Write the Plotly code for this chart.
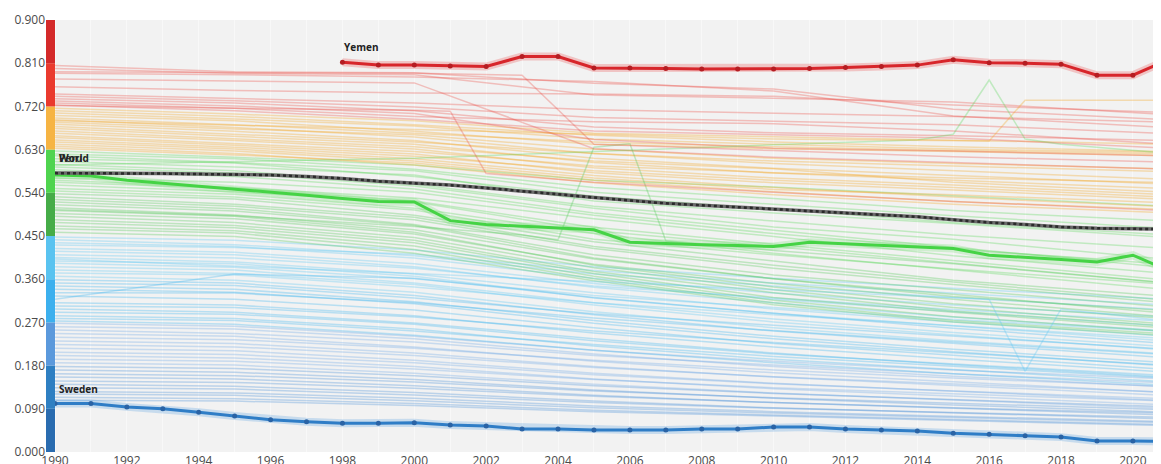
import plotly.graph_objects as go

# ---------------- data ----------------
BG_YEARS = [1990, 1995, 2000, 2005, 2010, 2015, 2021]

RED_LINES = [
    [0.805, 0.792, 0.790, 0.768, 0.756, 0.714, 0.692],
    [0.799, 0.789, 0.786, 0.744, 0.737, 0.729, 0.703],
    [0.789, 0.786, 0.781, 0.772, 0.752, 0.700, 0.676],
    [0.777, 0.773, 0.769, 0.632, 0.614, 0.603, 0.589],
    [0.761, 0.753, 0.748, 0.746, 0.741, 0.723, 0.707],
    [0.746, 0.737, 0.727, 0.713, 0.706, 0.699, 0.687],
    [0.741, 0.732, 0.719, 0.697, 0.689, 0.682, 0.663],
    [0.736, 0.727, 0.711, 0.677, 0.665, 0.659, 0.649],
    [0.731, 0.721, 0.705, 0.651, 0.633, 0.627, 0.617],
    [0.727, 0.716, 0.699, 0.688, 0.684, 0.669, 0.641],
    [0.723, 0.711, 0.693, 0.669, 0.661, 0.654, 0.633],
]

ORANGE_LINES = [
    [0.716, 0.704, 0.690, 0.664, 0.657, 0.650, 0.641],
    [0.711, 0.699, 0.682, 0.660, 0.646, 0.636, 0.626],
    [0.706, 0.694, 0.679, 0.652, 0.641, 0.631, 0.624],
    [0.701, 0.690, 0.668, 0.641, 0.632, 0.626, 0.617],
    [0.696, 0.682, 0.664, 0.646, 0.636, 0.628, 0.621],
    [0.692, 0.676, 0.656, 0.622, 0.601, 0.586, 0.568],
    [0.687, 0.673, 0.661, 0.631, 0.612, 0.601, 0.590],
    [0.683, 0.668, 0.649, 0.612, 0.591, 0.576, 0.558],
    [0.678, 0.662, 0.646, 0.622, 0.606, 0.596, 0.584],
    [0.674, 0.657, 0.641, 0.603, 0.581, 0.566, 0.549],
    [0.669, 0.653, 0.636, 0.606, 0.590, 0.562, 0.541],
    [0.664, 0.649, 0.631, 0.592, 0.571, 0.556, 0.536],
    [0.659, 0.643, 0.626, 0.596, 0.582, 0.571, 0.561],
    [0.655, 0.639, 0.621, 0.582, 0.561, 0.546, 0.526],
    [0.650, 0.635, 0.616, 0.586, 0.566, 0.551, 0.531],
    [0.646, 0.631, 0.611, 0.576, 0.551, 0.531, 0.511],
    [0.641, 0.627, 0.606, 0.571, 0.547, 0.536, 0.519],
    [0.637, 0.622, 0.598, 0.561, 0.536, 0.516, 0.498],
    [0.633, 0.619, 0.602, 0.566, 0.542, 0.522, 0.505],
]

GREEN_LINES = [
    [0.627, 0.614, 0.598, 0.566, 0.552, 0.534, 0.512],
    [0.621, 0.611, 0.589, 0.551, 0.528, 0.503, 0.481],
    [0.617, 0.603, 0.586, 0.541, 0.516, 0.492, 0.466],
    [0.611, 0.602, 0.574, 0.533, 0.506, 0.478, 0.452],
    [0.605, 0.594, 0.577, 0.523, 0.498, 0.476, 0.447],
    [0.599, 0.586, 0.558, 0.512, 0.481, 0.452, 0.424],
    [0.594, 0.581, 0.554, 0.508, 0.469, 0.443, 0.401],
    [0.588, 0.574, 0.548, 0.498, 0.462, 0.426, 0.384],
    [0.571, 0.562, 0.541, 0.493, 0.455, 0.423, 0.391],
    [0.566, 0.551, 0.529, 0.486, 0.449, 0.409, 0.372],
    [0.562, 0.549, 0.523, 0.468, 0.433, 0.399, 0.358],
    [0.556, 0.542, 0.521, 0.461, 0.428, 0.393, 0.352],
    [0.549, 0.537, 0.508, 0.455, 0.414, 0.379, 0.338],
    [0.544, 0.531, 0.504, 0.443, 0.411, 0.381, 0.349],
    [0.538, 0.527, 0.493, 0.438, 0.398, 0.358, 0.324],
    [0.532, 0.516, 0.489, 0.428, 0.389, 0.354, 0.316],
    [0.526, 0.512, 0.484, 0.424, 0.383, 0.349, 0.311],
    [0.521, 0.507, 0.474, 0.411, 0.369, 0.338, 0.302],
    [0.515, 0.502, 0.472, 0.404, 0.361, 0.324, 0.294],
    [0.509, 0.494, 0.463, 0.402, 0.361, 0.328, 0.289],
    [0.503, 0.491, 0.458, 0.389, 0.344, 0.309, 0.278],
    [0.497, 0.486, 0.454, 0.391, 0.351, 0.318, 0.281],
    [0.491, 0.478, 0.447, 0.384, 0.338, 0.301, 0.266],
    [0.484, 0.472, 0.441, 0.376, 0.332, 0.294, 0.262],
    [0.478, 0.467, 0.436, 0.372, 0.322, 0.291, 0.258],
    [0.471, 0.461, 0.429, 0.366, 0.316, 0.282, 0.251],
    [0.465, 0.456, 0.422, 0.361, 0.311, 0.274, 0.246],
    [0.458, 0.449, 0.414, 0.357, 0.307, 0.271, 0.242],
]

CYAN_LINES = [
    [0.448, 0.441, 0.421, 0.386, 0.362, 0.341, 0.318],
    [0.442, 0.432, 0.409, 0.371, 0.346, 0.322, 0.296],
    [0.436, 0.428, 0.404, 0.362, 0.331, 0.306, 0.281],
    [0.431, 0.426, 0.412, 0.378, 0.352, 0.331, 0.306],
    [0.424, 0.416, 0.392, 0.351, 0.318, 0.292, 0.262],
    [0.418, 0.411, 0.386, 0.343, 0.311, 0.281, 0.252],
    [0.411, 0.404, 0.383, 0.346, 0.321, 0.297, 0.272],
    [0.405, 0.396, 0.371, 0.332, 0.298, 0.271, 0.241],
    [0.398, 0.392, 0.366, 0.321, 0.289, 0.262, 0.231],
    [0.393, 0.385, 0.361, 0.326, 0.301, 0.276, 0.251],
    [0.386, 0.379, 0.352, 0.311, 0.277, 0.249, 0.219],
    [0.379, 0.372, 0.349, 0.306, 0.271, 0.244, 0.212],
    [0.373, 0.369, 0.344, 0.311, 0.286, 0.263, 0.236],
    [0.366, 0.358, 0.333, 0.292, 0.259, 0.232, 0.204],
    [0.359, 0.352, 0.326, 0.286, 0.252, 0.226, 0.196],
    [0.352, 0.347, 0.321, 0.288, 0.264, 0.241, 0.214],
    [0.346, 0.339, 0.313, 0.274, 0.241, 0.214, 0.186],
    [0.339, 0.333, 0.309, 0.268, 0.236, 0.209, 0.179],
    [0.332, 0.331, 0.311, 0.279, 0.253, 0.229, 0.203],
    [0.318, 0.371, 0.362, 0.322, 0.289, 0.258, 0.226],
    [0.325, 0.318, 0.296, 0.259, 0.226, 0.201, 0.172],
    [0.311, 0.306, 0.284, 0.248, 0.219, 0.194, 0.166],
    [0.304, 0.301, 0.281, 0.252, 0.228, 0.206, 0.181],
    [0.298, 0.291, 0.269, 0.236, 0.206, 0.182, 0.156],
    [0.291, 0.287, 0.266, 0.232, 0.204, 0.183, 0.159],
    [0.284, 0.278, 0.256, 0.221, 0.193, 0.171, 0.146],
    [0.278, 0.274, 0.252, 0.224, 0.199, 0.178, 0.154],
    [0.273, 0.266, 0.243, 0.212, 0.186, 0.163, 0.139],
]

BLUE_LINES = [
    [0.268, 0.262, 0.241, 0.212, 0.189, 0.171, 0.152],
    [0.261, 0.256, 0.236, 0.204, 0.178, 0.158, 0.136],
    [0.254, 0.247, 0.229, 0.201, 0.181, 0.163, 0.144],
    [0.247, 0.241, 0.219, 0.189, 0.165, 0.146, 0.124],
    [0.239, 0.234, 0.216, 0.191, 0.171, 0.154, 0.136],
    [0.231, 0.226, 0.206, 0.178, 0.156, 0.138, 0.118],
    [0.224, 0.219, 0.201, 0.176, 0.157, 0.142, 0.124],
    [0.216, 0.211, 0.191, 0.164, 0.143, 0.126, 0.107],
    [0.208, 0.203, 0.186, 0.161, 0.142, 0.127, 0.111],
    [0.201, 0.196, 0.178, 0.152, 0.132, 0.116, 0.098],
    [0.193, 0.189, 0.173, 0.151, 0.134, 0.121, 0.106],
    [0.186, 0.181, 0.164, 0.141, 0.123, 0.108, 0.091],
    [0.178, 0.174, 0.159, 0.138, 0.122, 0.109, 0.094],
    [0.171, 0.166, 0.151, 0.129, 0.112, 0.098, 0.083],
    [0.163, 0.159, 0.146, 0.127, 0.113, 0.101, 0.088],
    [0.156, 0.152, 0.138, 0.118, 0.103, 0.091, 0.077],
    [0.148, 0.145, 0.133, 0.116, 0.103, 0.092, 0.081],
    [0.141, 0.137, 0.124, 0.106, 0.092, 0.081, 0.069],
    [0.134, 0.131, 0.119, 0.103, 0.091, 0.082, 0.072],
    [0.126, 0.123, 0.112, 0.096, 0.084, 0.074, 0.063],
    [0.121, 0.118, 0.107, 0.092, 0.081, 0.072, 0.061],
    [0.114, 0.111, 0.101, 0.087, 0.077, 0.068, 0.057],
    [0.108, 0.106, 0.097, 0.084, 0.075, 0.066, 0.055],
]

# irregular background series (own year lists)
SPIKE16_YEARS = [1990, 2000, 2010, 2014, 2015, 2016, 2017, 2018, 2021]
SPIKE16_VALUES = [0.598, 0.612, 0.640, 0.650, 0.662, 0.775, 0.652, 0.641, 0.622]

JUMP17_YEARS = [1990, 2000, 2010, 2016, 2017, 2018, 2021]
JUMP17_VALUES = [0.690, 0.672, 0.652, 0.648, 0.733, 0.733, 0.733]

DROP17_YEARS = [1990, 2000, 2010, 2016, 2017, 2018, 2021]
DROP17_VALUES = [0.402, 0.372, 0.338, 0.318, 0.168, 0.298, 0.272]

SPIKE05_YEARS = [1990, 1995, 2000, 2003, 2004, 2005, 2006, 2007, 2010, 2015, 2021]
SPIKE05_VALUES = [0.505, 0.492, 0.470, 0.452, 0.442, 0.635, 0.642, 0.440, 0.420, 0.392, 0.352]

DROP02_YEARS = [1990, 1995, 2000, 2001, 2002, 2005, 2010, 2015, 2021]
DROP02_VALUES = [0.722, 0.716, 0.712, 0.710, 0.580, 0.562, 0.541, 0.522, 0.503]

DROP04_YEARS = [1990, 1995, 2000, 2003, 2005, 2010, 2015, 2021]
DROP04_VALUES = [0.792, 0.790, 0.789, 0.785, 0.641, 0.628, 0.615, 0.604]

# highlighted series
YEARS = list(range(1990, 2022))
WORLD = [0.581, 0.581, 0.581, 0.580, 0.579, 0.578, 0.577, 0.574, 0.570, 0.564,
         0.560, 0.556, 0.550, 0.544, 0.537, 0.530, 0.524, 0.518, 0.514, 0.510,
         0.506, 0.501, 0.497, 0.494, 0.490, 0.484, 0.478, 0.474, 0.469, 0.466,
         0.465, 0.464]
PERU = [0.577, 0.575, 0.566, 0.560, 0.553, 0.548, 0.541, 0.535, 0.528, 0.522,
        0.521, 0.482, 0.474, 0.470, 0.467, 0.463, 0.437, 0.434, 0.432, 0.430,
        0.428, 0.437, 0.434, 0.431, 0.428, 0.424, 0.410, 0.406, 0.401, 0.396,
        0.410, 0.378]
SWEDEN = [0.101, 0.101, 0.094, 0.090, 0.083, 0.075, 0.067, 0.063, 0.060, 0.060,
          0.061, 0.056, 0.054, 0.048, 0.048, 0.046, 0.046, 0.046, 0.048, 0.048,
          0.052, 0.052, 0.048, 0.046, 0.044, 0.039, 0.037, 0.034, 0.031, 0.023,
          0.023, 0.022]
YEMEN_YEARS = list(range(1998, 2022))
YEMEN = [0.812, 0.806, 0.806, 0.804, 0.803, 0.824, 0.824, 0.800, 0.800, 0.799,
         0.798, 0.798, 0.798, 0.799, 0.801, 0.803, 0.806, 0.817, 0.811, 0.810,
         0.808, 0.785, 0.785, 0.818]

BAND_EDGES = [0.0, 0.09, 0.18, 0.27, 0.36, 0.45, 0.54, 0.63, 0.72, 0.81, 0.90]
BAND_COLORS = ['#2a6cb0', '#2e7fc2', '#5b99dc', '#3cb0ee', '#59c3f0',
               '#45ac48', '#4fd44f', '#f6b443', '#ea3a2e', '#d42a2a']
LINE_COLORS = ['#3d86cf', '#4a90d9', '#6fa8e6', '#3fb6ef', '#5cc8f2',
               '#52c957', '#5ad85a', '#f5a623', '#ec5048', '#e03a3a']

Y_TICKS = [0.0, 0.09, 0.18, 0.27, 0.36, 0.45, 0.54, 0.63, 0.72, 0.81, 0.90]
X_TICKS = list(range(1990, 2021, 2))

# ---------------- figure ----------------
# the page body has an 8px margin, so the figure is offset by 8px
PX_PER_YEAR = 35.93
FIG_W, FIG_H = 1153, 456
LEFT_MARGIN = 38
PLOT_W = FIG_W - LEFT_MARGIN
X_MIN = 1990 - 9 / PX_PER_YEAR
X_MAX = X_MIN + PLOT_W / PX_PER_YEAR


def band_index(v):
    for i in range(len(BAND_COLORS)):
        if BAND_EDGES[i] <= v < BAND_EDGES[i + 1]:
            return i
    return len(BAND_COLORS) - 1


fig = go.Figure()


def add_bg(xs, ys):
    fig.add_trace(go.Scatter(
        x=xs, y=ys, mode='lines', hoverinfo='skip', showlegend=False,
        line=dict(color=LINE_COLORS[band_index(ys[0])], width=1.5),
        opacity=0.32))


for group in (BLUE_LINES, CYAN_LINES, GREEN_LINES, ORANGE_LINES, RED_LINES):
    for vals in group:
        add_bg(BG_YEARS, vals)

for xs, ys in ((SPIKE16_YEARS, SPIKE16_VALUES), (JUMP17_YEARS, JUMP17_VALUES),
               (DROP17_YEARS, DROP17_VALUES), (SPIKE05_YEARS, SPIKE05_VALUES),
               (DROP02_YEARS, DROP02_VALUES), (DROP04_YEARS, DROP04_VALUES)):
    add_bg(xs, ys)


def add_highlight(xs, ys, color, halo, markers=True, marker_color=None):
    fig.add_trace(go.Scatter(x=xs, y=ys, mode='lines', hoverinfo='skip',
                             showlegend=False, line=dict(color=halo, width=8)))
    fig.add_trace(go.Scatter(
        x=xs, y=ys, mode='lines+markers' if markers else 'lines',
        hoverinfo='skip', showlegend=False,
        line=dict(color=color, width=3),
        marker=dict(size=5, color=marker_color or color)))


add_highlight(YEARS, PERU, '#45d345', 'rgba(80,220,80,0.22)', markers=False)
# World: solid base with dotted overlay
fig.add_trace(go.Scatter(x=YEARS, y=WORLD, mode='lines', hoverinfo='skip',
                         showlegend=False, line=dict(color='#6a6a6a', width=3.5)))
fig.add_trace(go.Scatter(x=YEARS, y=WORLD, mode='lines', hoverinfo='skip',
                         showlegend=False,
                         line=dict(color='#2a2a2a', width=2.5, dash='dot')))
add_highlight(YEARS, SWEDEN, '#2f7dc6', 'rgba(70,150,225,0.25)',
              marker_color='#2a63a5')
add_highlight(YEMEN_YEARS, YEMEN, '#d7262b', 'rgba(235,60,60,0.25)',
              marker_color='#b51d22')

# colour strip along the y axis
for i, c in enumerate(BAND_COLORS):
    fig.add_shape(type='rect', xref='x', yref='y', x0=X_MIN, x1=1990,
                  y0=BAND_EDGES[i], y1=BAND_EDGES[i + 1],
                  fillcolor=c, line=dict(width=0), layer='above')

label_font = dict(family='Open Sans, sans-serif', size=10, color='#222222')
fig.add_annotation(x=YEMEN_YEARS[0], y=0.844, text='<b>Yemen</b>', showarrow=False,
                   xanchor='left', yanchor='middle', xshift=0, font=label_font)
fig.add_annotation(x=1990, y=0.131, text='<b>Sweden</b>', showarrow=False,
                   xanchor='left', yanchor='middle', xshift=2, font=label_font)
fig.add_annotation(x=1990, y=0.6125, text='<b>World</b>', showarrow=False,
                   xanchor='left', yanchor='middle', xshift=2, font=label_font)
fig.add_annotation(x=1990, y=0.6125, text='<b>Peru</b>', showarrow=False,
                   xanchor='left', yanchor='middle', xshift=2, font=label_font,
                   opacity=0.85)

tick_font = dict(family='Open Sans, sans-serif', size=12, color='#4a4a4a')
fig.update_layout(
    width=FIG_W, height=FIG_H,
    margin=dict(l=LEFT_MARGIN, r=0, t=12, b=12, autoexpand=False),
    paper_bgcolor='white', plot_bgcolor='#f2f2f2',
    font=dict(family='Open Sans, sans-serif', size=11, color='#555555'),
    xaxis=dict(range=[X_MIN, X_MAX], tickmode='array', tickvals=X_TICKS,
               ticktext=[str(t) for t in X_TICKS], showgrid=False,
               zeroline=False, showline=False, ticks='', automargin=False,
               tickfont=tick_font,
               minor=dict(dtick=1, tick0=1990, showgrid=True,
                          gridcolor='rgba(255,255,255,0.45)', gridwidth=1)),
    yaxis=dict(range=[0, 0.9], tickmode='array', tickvals=Y_TICKS,
               ticktext=['%.3f' % t for t in Y_TICKS], showgrid=False,
               zeroline=False, showline=False, ticks='', automargin=False,
               tickfont=tick_font),
)

fig.write_html('out.html')
